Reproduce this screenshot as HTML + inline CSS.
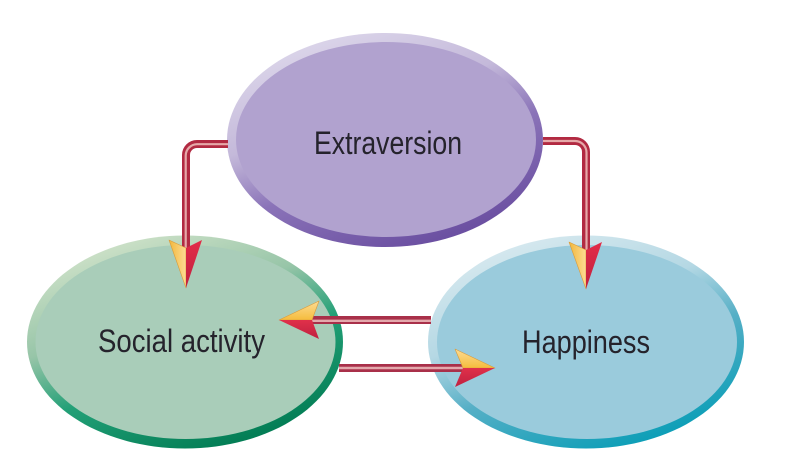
<!DOCTYPE html>
<html><head><meta charset="utf-8"><style>html,body{margin:0;padding:0;background:#fff;width:793px;height:466px;overflow:hidden}svg{display:block}text{font-family:"Liberation Sans",sans-serif;font-size:32px;fill:#25232c}</style></head>
<body>
<svg width="793" height="466" viewBox="0 0 793 466" xmlns="http://www.w3.org/2000/svg">
<defs>
<linearGradient id="p" x1="0.2" y1="0.05" x2="0.7" y2="1"><stop offset="0" stop-color="#dcd6ea"/><stop offset="0.35" stop-color="#c4b9da"/><stop offset="0.6" stop-color="#8a73b8"/><stop offset="1" stop-color="#684c9f"/></linearGradient>
<linearGradient id="g" x1="0.2" y1="0.05" x2="0.7" y2="1"><stop offset="0" stop-color="#cfe2c9"/><stop offset="0.35" stop-color="#97c5a8"/><stop offset="0.6" stop-color="#23a077"/><stop offset="1" stop-color="#007a52"/></linearGradient>
<linearGradient id="b" x1="0.2" y1="0.05" x2="0.7" y2="1"><stop offset="0" stop-color="#d7e9ef"/><stop offset="0.35" stop-color="#b5d8e4"/><stop offset="0.6" stop-color="#55afc6"/><stop offset="1" stop-color="#079db6"/></linearGradient>
<linearGradient id="yv" x1="0" y1="0" x2="1" y2="0"><stop offset="0" stop-color="#f2b73a"/><stop offset="1" stop-color="#fddc94"/></linearGradient>
<linearGradient id="yh" x1="0" y1="1" x2="0" y2="0"><stop offset="0" stop-color="#f5bc3d"/><stop offset="1" stop-color="#fddc94"/></linearGradient>
<linearGradient id="rh" x1="0" y1="0" x2="0" y2="1"><stop offset="0" stop-color="#e0304a"/><stop offset="1" stop-color="#bf2140"/></linearGradient>
<linearGradient id="rv" x1="0" y1="0" x2="0" y2="1"><stop offset="0" stop-color="#e32c48"/><stop offset="1" stop-color="#c0203f"/></linearGradient>
</defs>

<ellipse cx="385" cy="140" rx="158" ry="107" fill="url(#p)"/>
<ellipse cx="386" cy="139.5" rx="150" ry="97.5" fill="#b1a2cf"/>
<ellipse cx="185" cy="342" rx="158" ry="106.5" fill="url(#g)"/>
<ellipse cx="185.5" cy="342" rx="150" ry="97" fill="#a9cdb9"/>
<ellipse cx="586" cy="342" rx="158" ry="106.5" fill="url(#b)"/>
<ellipse cx="587" cy="342" rx="150" ry="97" fill="#9acbdc"/>

<g fill="none">
<path d="M228 144H197A11 11 0 0 0 186 155V250" stroke="#b22a42" stroke-width="8"/>
<path d="M228 144.2H197A11.5 11.5 0 0 0 185.7 155.5V250" stroke="#e6a9a9" stroke-width="2.2"/>
<path d="M543 141H575A11 11 0 0 1 586 152V252" stroke="#b22a42" stroke-width="8"/>
<path d="M543 141H575A11.5 11.5 0 0 1 586.5 152.5V252" stroke="#e6a9a9" stroke-width="2.2"/>
<path d="M431 320H310" stroke="#a9304a" stroke-width="8"/>
<path d="M431 320.8H310" stroke="#e4a9ad" stroke-width="2.4"/>
<path d="M339 368H465" stroke="#a9304a" stroke-width="8"/>
<path d="M339 368H465" stroke="#e4a9ad" stroke-width="2.4"/>
</g>

<g stroke="#d99a3a" stroke-width="0.6" stroke-linejoin="round">
<polygon points="169,240 186,248 186,288" fill="url(#yv)"/>
<polygon points="569,242 586,250 586,289" fill="url(#yv)"/>
<polygon points="279,320 319,301 312,320" fill="url(#yh)"/>
<polygon points="495,368 455,349 463,368" fill="url(#yh)"/>
</g>
<polygon points="202,240 186,248 186,288" fill="url(#rv)"/>
<polygon points="602,242 586,250 586,289" fill="url(#rv)"/>
<polygon points="279,320 319,339 312,320" fill="url(#rh)"/>
<polygon points="495,368 455,387 463,368" fill="url(#rh)"/>

<text x="314" y="154" textLength="148" lengthAdjust="spacingAndGlyphs">Extraversion</text>
<text x="98" y="352" textLength="167" lengthAdjust="spacingAndGlyphs">Social activity</text>
<text x="522" y="353" textLength="128" lengthAdjust="spacingAndGlyphs">Happiness</text>
</svg>
</body></html>
